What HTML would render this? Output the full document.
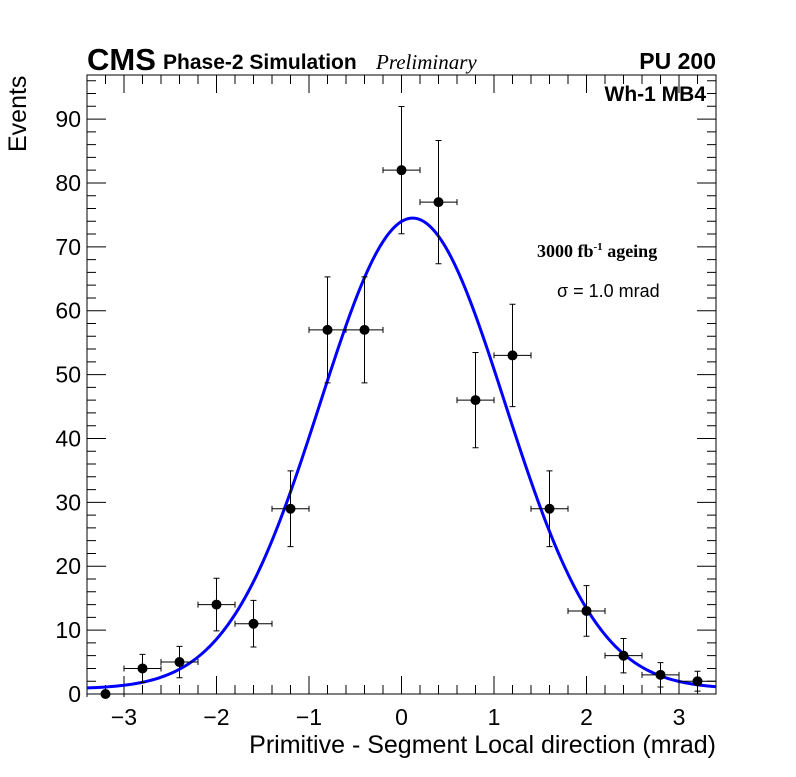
<!DOCTYPE html>
<html><head><meta charset="utf-8"><style>
body{margin:0;background:#fff}
svg text{font-family:"Liberation Sans",sans-serif}
</style></head><body>
<svg id="c" width="796" height="772" xmlns="http://www.w3.org/2000/svg">
<rect width="796" height="772" fill="#fff"/>
<g id="g"></g>
<text x="87" y="70" font-size="31" font-weight="bold">CMS</text>
<text x="163" y="69" font-size="21" font-weight="bold">Phase-2 Simulation</text>
<text x="376" y="69" font-size="21" font-style="italic" style="font-family:'Liberation Serif',serif">Preliminary</text>
<text x="716" y="69" font-size="23" font-weight="bold" text-anchor="end">PU 200</text>
<text x="706" y="101" font-size="21" font-weight="bold" text-anchor="end">Wh-1 MB4</text>
<text x="537" y="257" font-size="18" font-weight="bold" style="font-family:'Liberation Serif',serif">3000 fb<tspan dy="-7" font-size="11">-1</tspan><tspan dy="7"> ageing</tspan></text>
<text x="557" y="297" font-size="18">σ = 1.0 mrad</text>
<text x="716" y="753" font-size="25" text-anchor="end">Primitive - Segment Local direction (mrad)</text>
<text transform="translate(26,152) rotate(-90)" font-size="25">Events</text>
</svg>
<script>
const binCenters=[-3.2,-2.8,-2.4,-2.0,-1.6,-1.2,-0.8,-0.4,0,0.4,0.8,1.2,1.6,2.0,2.4,2.8,3.2];
const counts=[0,4,5,14,11,29,57,57,82,77,46,53,29,13,6,3,2];
const xTicks=[-3,-2,-1,0,1,2,3];
const yTicks=[0,10,20,30,40,50,60,70,80,90];
const fitParams=[73.7,0.12,1.0,0.8];
const L=87,R=716,T=75,B=694,XMIN=-3.4,XMAX=3.4,YMAX=96.9;
const X=v=>L+(v-XMIN)/(XMAX-XMIN)*(R-L);
const Y=v=>B-v/YMAX*(B-T);
const g=document.getElementById('g');const NS='http://www.w3.org/2000/svg';
function mk(t,a){const e=document.createElementNS(NS,t);for(const k in a)e.setAttribute(k,a[k]);g.appendChild(e);return e;}
let fr=mk('rect',{x:L,y:T,width:R-L,height:B-T,fill:'none',stroke:'#000','stroke-width':1});


let tp='';
for(let v=-3.4;v<=3.41;v+=0.2){const r=Math.round(v*10)/10;const maj=Math.abs(r-Math.round(r))<1e-6;const len=maj?18:9;const x=X(r);tp+=`M${x},${B}v${-len}M${x},${T}v${len}`;}
for(let v=0;v<=YMAX;v+=2){const maj=v%10==0;const len=maj?19:9;const y=Y(v);tp+=`M${L},${y}h${len}M${R},${y}h${-len}`;}
let tk=mk('path',{d:tp,stroke:'#000','stroke-width':1,fill:'none'});


xTicks.forEach(v=>{const t=mk('text',{x:X(v),y:725,'font-size':23,'text-anchor':'middle'});t.textContent=(v<0?'\u2212'+(-v):v);

});
yTicks.forEach(v=>{const t=mk('text',{x:81,y:Y(v)+8,'font-size':23,'text-anchor':'end'});t.textContent=v;

});
const [A,mu,s,c]=fitParams;let d='';
for(let i=0;i<=300;i++){const x=XMIN+i*(XMAX-XMIN)/300;const y=A*Math.exp(-((x-mu)**2)/(2*s*s))+c;d+=(i?'L':'M')+X(x).toFixed(2)+','+Y(y).toFixed(2);}
let fit=mk('path',{d:d,stroke:'#0000ff','stroke-width':3,fill:'none'});


binCenters.forEach((xc,i)=>{const n=counts[i];const e=Math.sqrt(n)*1.1;const x=X(xc),y=Y(n);
let p=`M${X(xc-0.2)},${y}H${X(xc+0.2)}M${X(xc-0.2)},${y-3}v6M${X(xc+0.2)},${y-3}v6`;
if(n>0)p+=`M${x},${Y(n+e)}V${Y(Math.max(0,n-e))}M${x-3},${Y(n+e)}h6M${x-3},${Y(Math.max(0,n-e))}h6`;
const eb=mk('path',{d:p,stroke:'#000','stroke-width':1,fill:'none'});


const m=mk('circle',{cx:x,cy:y,r:5,fill:'#000'});

});
</script>
</body></html>
